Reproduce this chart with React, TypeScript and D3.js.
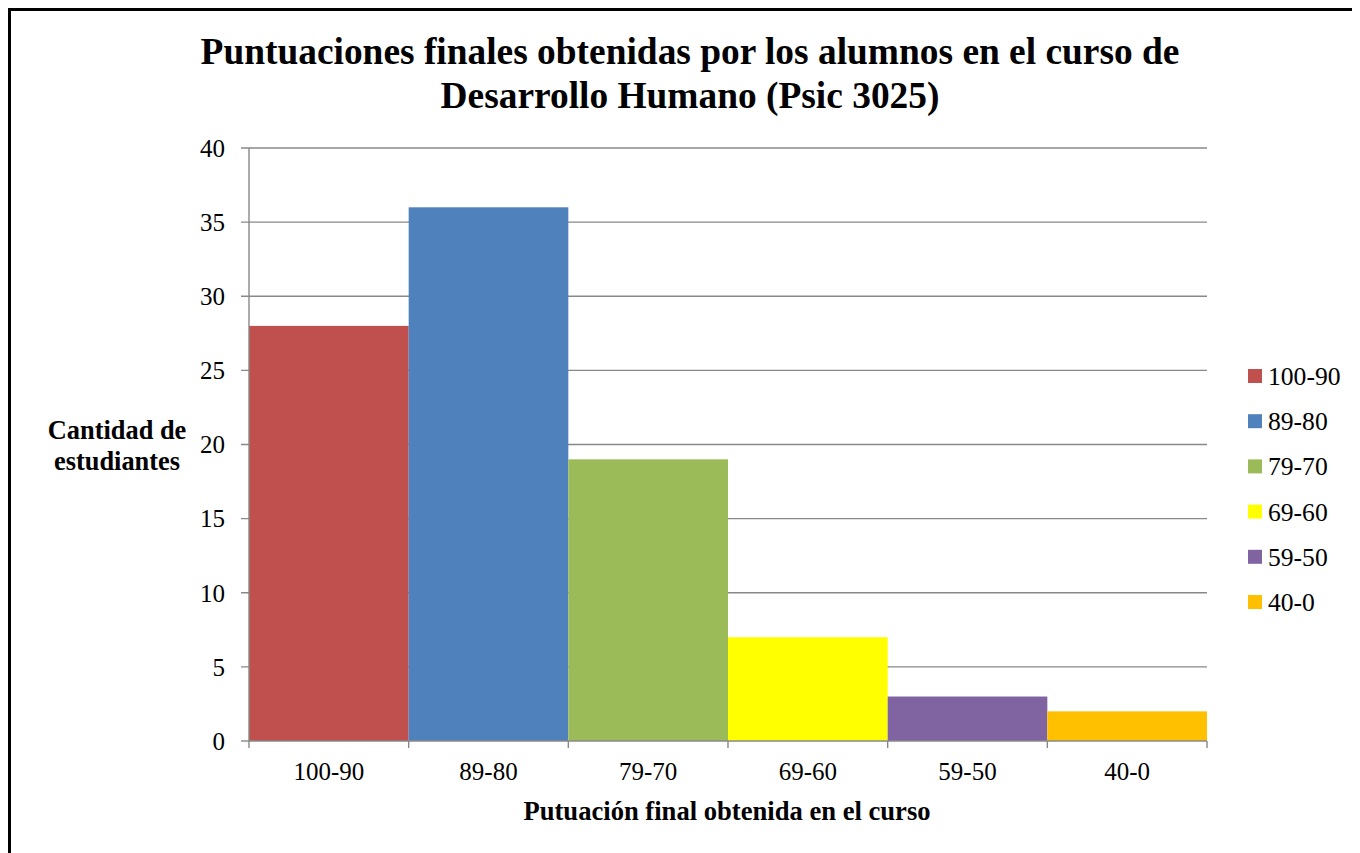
import React from "react";
import * as d3 from "d3";

const categories = ["100-90", "89-80", "79-70", "69-60", "59-50", "40-0"];
const counts = [28, 36, 19, 7, 3, 2];
const colors = ["#C0504D", "#4F81BD", "#9BBB59", "#FFFF00", "#8064A2", "#FFC000"];
const yTicks = [0, 5, 10, 15, 20, 25, 30, 35, 40];
const titleLines = ["Puntuaciones finales obtenidas por los alumnos en el curso de", "Desarrollo Humano (Psic 3025)"];
const yLabelLines = ["Cantidad de", "estudiantes"];
const xLabel = "Putuación final obtenida en el curso";

const OFF = 8;
const W = 1352;
const H = 845;

export default function App() {
  const left = 249 - OFF, right = 1207 - OFF, top = 148 - OFF, bottom = 741 - OFF;
  const x = d3.scaleBand<string>().domain(categories).range([left, right]).padding(0);
  const y = d3.scaleLinear().domain([0, 40]).range([bottom, top]);
  const font = "Liberation Serif, Times New Roman, Tinos, DejaVu Serif, serif";
  const grid = "#888888";
  const legendY0 = 376 - OFF;
  const legendStep = 45.2;
  return (
    <svg width={W} height={H} style={{ display: "block", fontFamily: font }}>
      <rect x={0} y={0} width={W} height={H} fill="#fff" />
      <rect x={1.5} y={1.5} width={W + 10} height={H + 10} fill="none" stroke="#000" strokeWidth={3} />
      {titleLines.map((t, i) => (
        <text key={t} x={690 - OFF} y={64 - OFF + i * 44} textAnchor="middle" fontWeight="bold" fontSize={37.4} style={{ fontFamily: font }}>{t}</text>
      ))}
      {yTicks.map((t) => (
        <g key={t}>
          <line x1={left - 8} x2={t === 0 ? left : right} y1={y(t)} y2={y(t)} stroke={grid} strokeWidth={1.4} />
          <text x={225 - OFF} y={y(t)} dy="0.35em" textAnchor="end" fontSize={25} style={{ fontFamily: font }}>{t}</text>
        </g>
      ))}
      {categories.map((c, i) => (
        <rect key={c} x={x(c)!} y={y(counts[i])} width={x.bandwidth()} height={bottom - y(counts[i])} fill={colors[i]} />
      ))}
      <line x1={left} x2={left} y1={top} y2={bottom} stroke={grid} strokeWidth={1.4} />
      <line x1={left} x2={right} y1={bottom} y2={bottom} stroke={grid} strokeWidth={1.4} />
      {[...categories.map((c) => x(c)!), right].map((v, i) => (
        <line key={i} x1={v} x2={v} y1={bottom} y2={bottom + 7} stroke={grid} strokeWidth={1.4} />
      ))}
      {categories.map((c) => (
        <text key={c} x={x(c)! + x.bandwidth() / 2} y={780 - OFF} textAnchor="middle" fontSize={25} style={{ fontFamily: font }}>{c}</text>
      ))}
      <text x={727 - OFF} y={820 - OFF} textAnchor="middle" fontWeight="bold" fontSize={26.6} style={{ fontFamily: font }}>{xLabel}</text>
      {yLabelLines.map((t, i) => (
        <text key={t} x={117 - OFF} y={439 - OFF + i * 31} textAnchor="middle" fontWeight="bold" fontSize={26.4} style={{ fontFamily: font }}>{t}</text>
      ))}
      {categories.map((c, i) => (
        <g key={c}>
          <rect x={1248 - OFF} y={legendY0 + i * legendStep - 7} width={14} height={14} fill={colors[i]} />
          <text x={1268 - OFF} y={legendY0 + i * legendStep} dy="0.35em" fontSize={25.6} style={{ fontFamily: font }}>{c}</text>
        </g>
      ))}
    </svg>
  );
}
